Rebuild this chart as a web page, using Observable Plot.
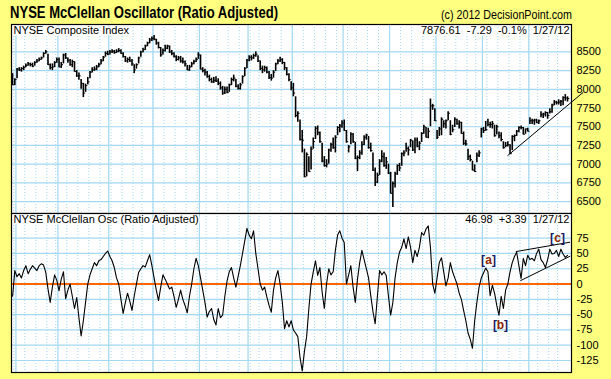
<!DOCTYPE html>
<html><head><meta charset="utf-8">
<script src="https://cdn.jsdelivr.net/npm/d3@7"></script>
<script src="https://cdn.jsdelivr.net/npm/@observablehq/plot@0.6"></script>
<style>
html,body{margin:0;padding:0;background:#FFFF80;}
#chart{position:relative;width:611px;height:379px;background:#FFFF80;overflow:hidden;font-family:"Liberation Sans",Arial,sans-serif;}
#title{position:absolute;left:10px;top:5px;font-size:16px;font-weight:bold;white-space:nowrap;transform-origin:0 0;line-height:1;z-index:2;}
#copy{position:absolute;left:441px;top:9px;font-size:12px;white-space:nowrap;transform-origin:0 0;line-height:1;z-index:2;}
</style></head>
<body><div id="chart"><div id="title">NYSE McClellan Oscillator (Ratio Adjusted)</div><div id="copy">(c) 2012 DecisionPoint.com</div></div>
<script>
// NYSE Composite daily bars, 2011-01-28 .. 2012-01-27 (index = trading day)
const barHigh = [
8210,8140,8280,8290,8290,8310,8340,8360,8350,8350,
8370,8400,8420,8430,8490,8520,8470,8340,8340,8370,
8420,8420,8360,8470,8480,8420,8400,8390,8370,8250,
8220,8130,8080,8070,8160,8240,8290,8300,8320,8350,
8400,8440,8500,8510,8520,8530,8520,8530,8545,8530,
8490,8440,8420,8430,8400,8330,8340,8430,8510,8550,
8590,8630,8680,8700,8720,8670,8630,8560,8540,8590,
8590,8580,8520,8490,8450,8440,8440,8420,8380,8320,
8320,8360,8390,8420,8490,8460,8290,8270,8240,8190,
8150,8160,8170,8140,8100,8040,8030,8030,8070,8150,
8190,8130,8060,8080,8180,8290,8400,8450,8450,8470,
8500,8450,8380,8310,8310,8300,8240,8200,8250,8350,
8400,8430,8410,8360,8290,8210,8100,8080,7900,7700,
7590,7450,7200,7150,7100,7230,7350,7500,7510,7430,
7280,7100,7060,7200,7280,7350,7380,7500,7530,7580,
7590,7450,7250,7420,7410,7290,7110,7180,7300,7380,
7400,7370,7280,7150,6950,6880,7060,7180,7150,7090,
7000,6890,6760,6890,6990,7010,7150,7180,7280,7230,
7330,7310,7350,7350,7300,7420,7520,7490,7480,7870,
7800,7740,7450,7490,7620,7580,7590,7700,7580,7520,
7620,7600,7580,7560,7430,7320,7200,7120,7040,6990,
7150,7180,7480,7490,7570,7600,7560,7570,7520,7520,
7430,7420,7300,7290,7300,7260,7380,7390,7450,7500,
7510,7490,7470,7480,7620,7600,7600,7600,7590,7700,
7680,7700,7690,7740,7800,7850,7840,7860,7850,7900,7930,7900];
const barLow = [
8050,8050,8140,8240,8230,8250,8290,8310,8300,8290,
8310,8350,8370,8390,8420,8470,8320,8260,8250,8290,
8350,8290,8280,8340,8400,8350,8310,8290,8230,8160,
8120,8000,7890,7960,8060,8140,8220,8240,8250,8290,
8330,8370,8430,8450,8460,8480,8470,8480,8490,8470,
8420,8360,8350,8360,8310,8210,8270,8340,8430,8490,
8520,8570,8610,8640,8650,8590,8540,8430,8460,8500,
8530,8480,8450,8420,8370,8380,8350,8340,8300,8250,
8240,8290,8330,8360,8400,8260,8220,8180,8150,8100,
8080,8080,8090,8050,7990,7920,7930,7940,7960,8050,
8100,8020,7990,7990,8070,8170,8280,8370,8380,8400,
8430,8360,8250,8210,8230,8210,8130,8110,8150,8240,
8330,8360,8330,8250,8180,8100,7980,7900,7620,7560,
7310,7150,6820,6830,6890,6920,7200,7330,7380,7280,
7020,6960,6950,7000,7160,7200,7150,7380,7420,7480,
7440,7280,7150,7260,7280,7060,6900,7060,7120,7250,
7320,7200,7160,6900,6700,6740,6850,7020,6960,6930,
6860,6600,6420,6680,6850,6900,6970,7100,7160,7110,
7220,7170,7140,7220,7180,7290,7400,7350,7340,7500,
7720,7570,7330,7370,7380,7480,7470,7580,7380,7420,
7490,7520,7470,7400,7250,7240,7050,7030,6910,6890,
7020,7090,7350,7410,7440,7500,7480,7470,7360,7390,
7340,7300,7200,7220,7230,7130,7180,7300,7370,7420,
7460,7390,7400,7430,7530,7530,7520,7540,7530,7620,
7610,7630,7600,7670,7680,7780,7790,7790,7770,7780,7840,7830];
const barClose = [
8060,8130,8270,8260,8280,8290,8320,8340,8330,8310,
8360,8380,8400,8420,8480,8500,8330,8290,8300,8360,
8400,8300,8330,8460,8420,8390,8330,8370,8240,8180,
8180,8080,7950,8050,8100,8230,8260,8270,8300,8330,
8380,8430,8480,8470,8500,8510,8490,8510,8520,8480,
8440,8380,8400,8380,8340,8260,8330,8420,8500,8530,
8580,8620,8660,8680,8670,8620,8560,8460,8520,8550,
8580,8500,8480,8440,8400,8420,8380,8370,8340,8260,
8300,8340,8370,8400,8460,8270,8250,8230,8170,8130,
8100,8120,8110,8080,8020,7950,8000,7960,8060,8130,
8150,8040,8010,8060,8170,8280,8390,8430,8420,8450,
8470,8380,8280,8260,8290,8230,8160,8150,8230,8340,
8380,8400,8360,8290,8200,8130,8020,7950,7650,7680,
7330,7320,6830,7130,6900,7200,7300,7480,7420,7300,
7040,6980,7000,7190,7260,7220,7360,7490,7510,7550,
7450,7300,7230,7400,7300,7080,7090,7150,7260,7360,
7390,7220,7180,6920,6760,6850,7040,7100,6980,7030,
6880,6610,6740,6870,6980,6950,7140,7150,7210,7190,
7320,7190,7320,7240,7280,7410,7500,7360,7440,7780,
7780,7580,7360,7470,7600,7540,7580,7680,7400,7460,
7600,7540,7560,7410,7280,7270,7100,7060,6920,6900,
7120,7150,7470,7450,7460,7530,7530,7540,7380,7500,
7380,7330,7220,7250,7260,7140,7370,7380,7440,7490,
7490,7400,7470,7440,7580,7580,7590,7560,7580,7660,
7670,7690,7650,7700,7790,7830,7820,7830,7840,7890,7884,7877];
// NYSE McClellan Oscillator (Ratio Adjusted), same days
const osc = [
-20,22,12,17,10,22,30,17,24,30,
26,22,30,33,31,19,-8,-30,-5,15,
6,-11,8,20,-24,-10,0,-20,-40,-22,
-55,-85,-60,-30,0,15,25,35,30,38,
40,45,50,54,45,38,27,10,0,-25,
-48,-30,-15,-28,-43,-20,0,19,25,30,
28,38,48,30,10,-10,-27,-5,15,8,
0,-8,-5,-20,-38,-25,-10,-25,-35,-47,
-20,0,25,42,30,10,-10,-30,-54,-45,
-40,-58,-67,-40,-55,-51,-20,5,20,27,
10,-5,12,30,50,70,91,80,74,87,
50,25,0,-10,-5,-21,-35,-46,-10,10,
22,0,-30,-73,-60,-70,-60,-75,-80,-86,
-120,-142,-110,-86,-40,0,20,38,14,27,
-13,-40,0,25,15,20,55,80,87,75,
68,0,15,30,-5,-30,8,35,55,40,
25,10,-19,-45,-65,-20,22,15,20,14,
-20,-51,-30,10,35,52,60,74,58,77,
60,35,55,45,60,84,80,90,95,60,
0,-15,10,35,43,20,-3,10,35,20,
10,0,-15,-25,-43,-60,-80,-90,-105,-60,
-30,-5,10,18,26,20,-19,-2,-15,-35,
-51,-20,-40,-10,0,20,35,45,52,30,
9,42,30,47,40,42,38,50,57,40,
35,27,40,57,49,50,55,45,57,49,43.59,46.98];

// calendar grid (trading-day indexes of month starts and week starts)
const monthStarts = [2,21,44,64,85,107,127,150,171,192,213,234];
const weekStarts = [1,6,11,16,20,25,30,35,40,45,50,55,59,64,69,74,79,84,88,93,98,103,108,112,117,122,127,132,137,142,147,152,156,161,166,171,176,181,186,191,196,201,206,210,215,220,225,230,234,238,243,247];
const nyseTicks = [6500,6750,7000,7250,7500,7750,8000,8250,8500];
const oscTicks = [-125,-100,-75,-50,-25,0,25,50,75];

// hand-drawn annotation lines and labels
const trendTopIdx = [224, 258];
const trendTopVal = [7116, 7958];
const chanLowIdx = [229.8, 252.1];
const chanLowVal = [5.7, 45.4];
const chanHighIdx = [227.8, 252];
const chanHighVal = [53.1, 68.3];
const labelLetters = ["a", "b", "c"];
const labelIdx = [215.3, 220.7, 246.5];
const labelVal = [38.4, -67.8, 74.8];

const headerTop = ["NYSE Composite Index", "7876.61\u00a0\u00a0-7.29\u00a0\u00a0-0.1%\u00a0\u00a01/27/12"];
const headerBot = ["NYSE McClellan Osc (Ratio Adjusted)", "46.98\u00a0\u00a0+3.39\u00a0\u00a01/27/12"];

const idx = d3.range(barClose.length);
const gridColor = "#A3D9F2";
const xDomain = [-0.5, 252.8];
const font = '"Liberation Sans", Arial, sans-serif';
const pts = (xs, ys) => xs.map((x, k) => ({x, y: ys[k]}));

const gridMarks = [
  Plot.ruleX(weekStarts, {x: d => d - 0.5, stroke: gridColor, strokeDasharray: "1,2"}),
  Plot.ruleX(monthStarts, {x: d => d - 0.5, stroke: gridColor, strokeWidth: 1.2})
];
const headerOpts = {dy: 2, lineAnchor: "top", fill: "black", fontSize: 11, stroke: "white", strokeWidth: 3, paintOrder: "stroke"};
const labelOpts = {x: (d, k) => labelIdx[k], y: (d, k) => labelVal[k], fontSize: 12, fontWeight: "bold"};

const topPlot = Plot.plot({
  width: 611, height: 214, marginLeft: 11, marginRight: 40, marginTop: 24, marginBottom: 1,
  style: {background: "transparent", fontFamily: font, fontSize: "11px", color: "black", overflow: "visible"},
  x: {domain: xDomain, axis: null},
  y: {domain: [6340, 8867], axis: "right", ticks: nyseTicks, tickSize: 0, tickPadding: 5, tickFormat: d => String(d), label: null},
  marks: [
    Plot.frame({fill: "white"}),
    Plot.ruleY(nyseTicks, {stroke: gridColor, strokeWidth: 1.2}),
    ...gridMarks,
    Plot.ruleX(idx, {x: i => i, y1: i => barLow[i], y2: i => barHigh[i], stroke: "black", strokeWidth: 1.6}),
    Plot.link(idx, {x1: i => i, x2: i => i + 0.8, y1: i => barClose[i], y2: i => barClose[i], stroke: "black", strokeWidth: 1}),
    Plot.line(pts(trendTopIdx, trendTopVal), {x: "x", y: "y", stroke: "black", strokeWidth: 1}),
    Plot.text([headerTop[0]], {...headerOpts, frameAnchor: "top-left", dx: 2, textAnchor: "start"}),
    Plot.text([headerTop[1]], {...headerOpts, frameAnchor: "top-right", dx: -2, textAnchor: "end"}),
    Plot.frame({stroke: "black", strokeWidth: 1.2})
  ]
});

const botPlot = Plot.plot({
  width: 611, height: 167, marginLeft: 11, marginRight: 40, marginTop: 1, marginBottom: 7,
  style: {background: "transparent", fontFamily: font, fontSize: "11px", color: "black", overflow: "visible"},
  x: {domain: xDomain, axis: null},
  y: {domain: [-144.6, 115.3], axis: "right", ticks: oscTicks, tickSize: 0, tickPadding: 5, tickFormat: d => String(d), label: null},
  marks: [
    Plot.frame({fill: "white"}),
    Plot.ruleY(oscTicks, {stroke: gridColor, strokeWidth: 1.2}),
    ...gridMarks,
    Plot.ruleY([0], {stroke: "#FF6600", strokeWidth: 2}),
    Plot.line(idx, {x: i => i, y: i => osc[i], stroke: "black", strokeWidth: 1.1}),
    Plot.line(pts(chanLowIdx, chanLowVal), {x: "x", y: "y", stroke: "black", strokeWidth: 1}),
    Plot.line(pts(chanHighIdx, chanHighVal), {x: "x", y: "y", stroke: "black", strokeWidth: 1}),
    Plot.text(labelLetters, {...labelOpts, text: () => "[", textAnchor: "end", dx: -3.5, fill: "#1A1A66"}),
    Plot.text(labelLetters, {...labelOpts, text: d => d, textAnchor: "middle", fill: "#8B2500"}),
    Plot.text(labelLetters, {...labelOpts, text: () => "]", textAnchor: "start", dx: 3.5, fill: "#1A1A66"}),
    Plot.text([headerBot[0]], {...headerOpts, frameAnchor: "top-left", dx: 2, textAnchor: "start"}),
    Plot.text([headerBot[1]], {...headerOpts, frameAnchor: "top-right", dx: -2, textAnchor: "end"}),
    Plot.frame({stroke: "black", strokeWidth: 1.2})
  ]
});

const chart = document.getElementById("chart");
topPlot.style.position = "absolute"; topPlot.style.left = "0px"; topPlot.style.top = "0px";
botPlot.style.position = "absolute"; botPlot.style.left = "0px"; botPlot.style.top = "212px";
chart.appendChild(topPlot);
chart.appendChild(botPlot);

function fitWidth(el, w) {
  const r = el.getBoundingClientRect().width;
  if (r > 0) el.style.transform = `scaleX(${w / r})`;
}
fitWidth(document.getElementById("title"), 268);
fitWidth(document.getElementById("copy"), 131);
</script></body></html>
